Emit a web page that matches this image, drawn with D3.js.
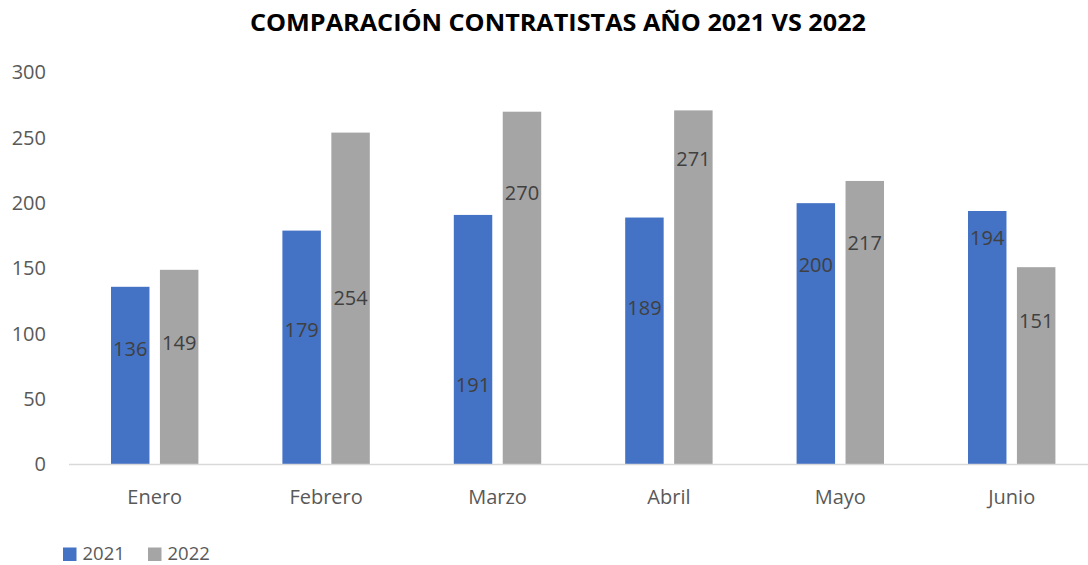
<!DOCTYPE html>
<html>
<head>
<meta charset="utf-8">
<script src="https://cdn.jsdelivr.net/npm/d3@7"></script>
<style>
  html, body { margin: 0; padding: 0; background: #fff; }
  svg { display: block; font-family: "Open Sans", sans-serif; }
</style>
</head>
<body>
<svg id="chart" width="1088" height="565"></svg>
<script>
// Contractor counts per month, 2021 vs 2022
const months = ["Enero", "Febrero", "Marzo", "Abril", "Mayo", "Junio"];
const seriesNames = ["2021", "2022"];
const values2021 = [136, 179, 191, 189, 200, 194];
const values2022 = [149, 254, 270, 271, 217, 151];
const yTicks = [0, 50, 100, 150, 200, 250, 300];

// Where each data label sits along its bar (in axis units)
const labelAt2021 = [89, 103, 61, 120, 153, 174];
const labelAt2022 = [93, 128, 208, 234, 170, 110];

const colors = ["#4472C4", "#A5A5A5"];

const svg = d3.select("#chart");

const y = d3.scaleLinear().domain([0, 300]).range([464.5, 72.5]);

const x0 = d3.scaleBand()
  .domain(months)
  .range([69, 1097.4])
  .paddingInner(0.49)
  .paddingOuter(0.245);

const x1 = d3.scaleBand()
  .domain(seriesNames)
  .range([0, x0.bandwidth()])
  .paddingInner(0.214)
  .paddingOuter(0);

const series = [
  { name: seriesNames[0], values: values2021, labelAt: labelAt2021, color: colors[0] },
  { name: seriesNames[1], values: values2022, labelAt: labelAt2022, color: colors[1] }
];

// Title
svg.append("text")
  .attr("x", 558)
  .attr("y", 31)
  .attr("text-anchor", "middle")
  .attr("font-size", 24)
  .attr("font-weight", "bold")
  .attr("fill", "#000")
  .attr("textLength", 616)
  .attr("lengthAdjust", "spacingAndGlyphs")
  .text("COMPARACIÓN CONTRATISTAS AÑO 2021 VS 2022");

// Y axis tick labels (no axis line, no gridlines)
const yAxis = d3.axisLeft(y).tickValues(yTicks).tickSize(0).tickPadding(0);
const yg = svg.append("g").attr("transform", "translate(46,0)").call(yAxis);
yg.select(".domain").remove();
yg.selectAll("text")
  .attr("font-family", "Open Sans, sans-serif")
  .attr("font-size", 20)
  .attr("fill", "#595959");

// Bars
series.forEach(s => {
  svg.append("g")
    .selectAll("rect")
    .data(months)
    .join("rect")
    .attr("x", (m) => x0(m) + x1(s.name))
    .attr("y", (m, i) => y(s.values[i]))
    .attr("width", x1.bandwidth())
    .attr("height", (m, i) => y(0) - y(s.values[i]))
    .attr("fill", s.color);
});

// X axis baseline and category labels
const xAxis = d3.axisBottom(x0).tickSize(0).tickPadding(0);
const xg = svg.append("g").attr("transform", `translate(0,${y(0)})`).call(xAxis);
xg.select(".domain").remove();
xg.selectAll("text")
  .attr("font-family", "Open Sans, sans-serif")
  .attr("font-size", 20)
  .attr("fill", "#595959")
  .attr("dy", null)
  .attr("y", 32)
  .attr("dominant-baseline", "central");

svg.append("line")
  .attr("x1", 69).attr("x2", 1088)
  .attr("y1", y(0)).attr("y2", y(0))
  .attr("stroke", "#D9D9D9")
  .attr("stroke-width", 1.5);

// Data labels
series.forEach(s => {
  svg.append("g")
    .selectAll("text")
    .data(months)
    .join("text")
    .attr("x", (m) => x0(m) + x1(s.name) + x1.bandwidth() / 2)
    .attr("y", (m, i) => y(s.labelAt[i]))
    .attr("text-anchor", "middle")
    .attr("dominant-baseline", "central")
    .attr("font-size", 20)
    .attr("fill", "#404040")
    .text((m, i) => s.values[i]);
});

// Legend
const legend = svg.append("g");
const legendX = [63, 148];
series.forEach((s, i) => {
  legend.append("rect")
    .attr("x", legendX[i]).attr("y", 547.5)
    .attr("width", 13.5).attr("height", 13.5)
    .attr("fill", s.color);
  legend.append("text")
    .attr("x", legendX[i] + 19.5)
    .attr("y", 559.5)
    .attr("font-size", 18.5)
    .attr("fill", "#595959")
    .text(s.name);
});
</script>
</body>
</html>
